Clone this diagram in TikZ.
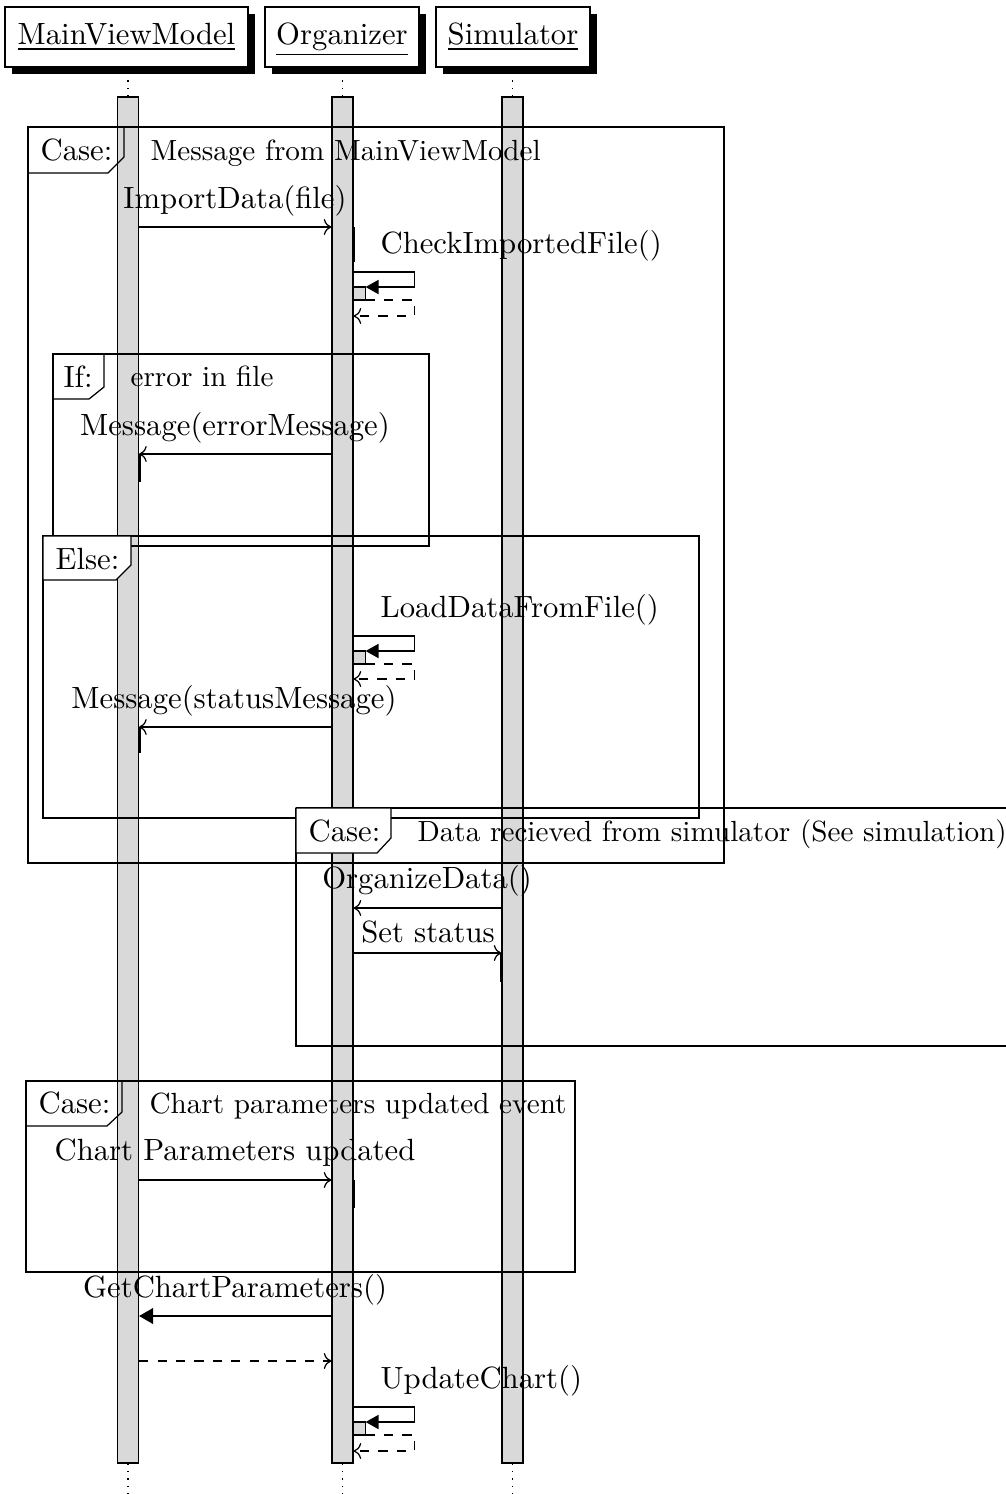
\documentclass[tikz,border=0pt]{standalone}
\usetikzlibrary{arrows.meta,shadows,calc}
\newcommand{\condtext}[1]{\scalebox{0.95}{#1}}
\begin{document}
\begin{tikzpicture}[x=0.3257pt,y=-0.3257pt,
  actor/.style={draw, fill=white, inner xsep=0pt, inner ysep=0pt,
    text height=12.05pt, text depth=7.45pt, anchor=base,
    drop shadow={shadow xshift=2.3pt, shadow yshift=-2.3pt, fill=black, opacity=1}},
  lifebar/.style={draw, fill=gray!30, inner sep=0pt, minimum width=6.84pt, minimum height=444.9pt},
  lifeline/.style={dotted},
  tag/.style={draw, fill=white},
  txt/.style={inner sep=0pt, anchor=base west},
  cond/.style={txt},
  lbl/.style={inner sep=0pt, anchor=base},
  msg/.style={->},
  reply/.style={->, dashed},
  sync/.style={-{Triangle[length=4.6pt,width=5.2pt]}},
  selfsync/.style={-{Triangle[length=4.2pt,width=4.6pt]}},
  act/.style={draw, fill=gray!30},
  calledge/.style={line width=0.35pt}
]
\useasboundingbox (0,0) rectangle (1006,1494);

% participants
\node[actor, minimum width=79.1pt] (mvm) at (126.5,44) {\underline{MainViewModel}};
\node[actor, minimum width=50.2pt] (org) at (342,44) {\underline{Organizer}};
\node[actor, minimum width=50.2pt] (sim) at (513,44) {\underline{Simulator}};

% activation bars and lifelines
\node[lifebar] (mvmbar) at (128,780) {};
\node[lifebar] (orgbar) at (342.5,780) {};
\node[lifebar] (simbar) at (512.5,780) {};
\foreach \b in {mvmbar,orgbar,simbar}{
  \draw[lifeline] (\b.north) -- ++(0,-23);
  \draw[lifeline] (\b.south) -- ++(0,31);
}

% Case: message from MainViewModel
\draw (28,127) rectangle (724,863);
\draw (28,127) -- (124,127) -- (124,157) -- (108,173) -- (28,173);
\node[txt] (c1tag) at (40,160) {Case:};
\node[cond] (c1cond) at (150,160) {\condtext{Message from MainViewModel}};

\coordinate (m1a) at (mvmbar.east |- 0,227);
\coordinate (m1b) at (orgbar.west |- 0,227);
\draw[msg] (m1a) -- (m1b);
\node[lbl] (m1l) at (235,208) {ImportData(file)};
\draw[calledge] ([xshift=0.3pt]orgbar.east |- 0,227) -- ++(0,35);

% self call: CheckImportedFile()
\node[txt] (s1l) at (380,253) {CheckImportedFile()};
\coordinate (s1) at (orgbar.east |- 0,272);
\draw (s1) -- ++(61,0) -- ++(0,15) coordinate (s1r);
\draw[selfsync] (s1r) -- ++(-49,0);
\draw[act] ($(s1)+(0,15)$) rectangle ++(12,13);
\draw[reply] ($(s1)+(12,28)$) -- ++(49,0) -- ++(0,16) -- ++(-61,0);

% If: error in file
\draw (53,354) rectangle (429,546);
\draw (53,354) -- (104,354) -- (104,387) -- (89,399) -- (53,399);
\node[txt] (iftag) at (63,387) {If:};
\node[cond] (ifcond) at (130,386) {\condtext{error in file}};

\coordinate (m2a) at (orgbar.west |- 0,454);
\coordinate (m2b) at (mvmbar.east |- 0,454);
\draw[msg] (m2a) -- (m2b);
\node[lbl] (m2l) at (235,435) {Message(errorMessage)};
\draw[calledge] ([xshift=0.3pt]m2b) -- ++(0,28);

% Else
\draw (43,536) rectangle (699,818);
\draw[tag] (43,536) -- (131,536) -- (131,565) -- (116,580) -- (43,580) -- cycle;
\node[txt] (elsetag) at (55,569) {Else:};

% self call: LoadDataFromFile()
\node[txt] (s2l) at (380,617) {LoadDataFromFile()};
\coordinate (s2) at (orgbar.east |- 0,636);
\draw (s2) -- ++(61,0) -- ++(0,15) coordinate (s2r);
\draw[selfsync] (s2r) -- ++(-49,0);
\draw[act] ($(s2)+(0,15)$) rectangle ++(12,13);
\draw[reply] ($(s2)+(12,28)$) -- ++(49,0) -- ++(0,15) -- ++(-61,0);

\coordinate (m3a) at (orgbar.west |- 0,727);
\coordinate (m3b) at (mvmbar.east |- 0,727);
\draw[msg] (m3a) -- (m3b);
\node[lbl] (m3l) at (234,708) {Message(statusMessage)};
\draw[calledge] ([xshift=0.3pt]m3b) -- ++(0,26);

% Case: data received from simulator
\draw (296,808) -- (1015,808);
\draw (296,808) -- (296,1046) -- (1015,1046);
\draw[tag] (296,808) -- (391,808) -- (391,838) -- (377,853) -- (296,853) -- cycle;
\node[txt] (c2tag) at (308,841) {Case:};
\node[cond] (c2cond) at (417,841) {\condtext{Data recieved from simulator (See simulation)}};

\coordinate (m4a) at (simbar.west |- 0,908);
\coordinate (m4b) at (orgbar.east |- 0,908);
\draw[msg] (m4a) -- (m4b);
\node[lbl] (m4l) at (427,888) {OrganizeData()};

\coordinate (m5a) at (orgbar.east |- 0,953);
\coordinate (m5b) at (simbar.west |- 0,953);
\draw[msg] (m5a) -- (m5b);
\node[lbl] (m5l) at (428,942) {Set status};
\draw[calledge] ([xshift=-0.3pt]m5b) -- ++(0,29);

% Case: chart parameters updated
\draw (26,1081) rectangle (575,1272);
\draw (26,1081) -- (122,1081) -- (122,1112) -- (107,1126) -- (26,1126);
\node[txt] (c3tag) at (38,1113) {Case:};
\node[cond] (c3cond) at (149,1113) {\condtext{Chart parameters updated event}};

\coordinate (m6a) at (mvmbar.east |- 0,1180);
\coordinate (m6b) at (orgbar.west |- 0,1180);
\draw[msg] (m6a) -- (m6b);
\node[lbl] (m6l) at (235,1160) {Chart Parameters updated};
\draw[calledge] ([xshift=0.3pt]orgbar.east |- 0,1180) -- ++(0,28);

% GetChartParameters() and its return
\coordinate (m7a) at (orgbar.west |- 0,1316);
\coordinate (m7b) at (mvmbar.east |- 0,1316);
\draw[sync] (m7a) -- (m7b);
\node[lbl] (m7l) at (235,1297) {GetChartParameters()};

\coordinate (r7a) at (mvmbar.east |- 0,1361);
\coordinate (r7b) at (orgbar.west |- 0,1361);
\draw[reply] (r7a) -- (r7b);

% self call: UpdateChart()
\node[txt] (s3l) at (380,1388) {UpdateChart()};
\coordinate (s3) at (orgbar.east |- 0,1407);
\draw (s3) -- ++(61,0) -- ++(0,15) coordinate (s3r);
\draw[selfsync] (s3r) -- ++(-49,0);
\draw[act] ($(s3)+(0,15)$) rectangle ++(12,13);
\draw[reply] ($(s3)+(12,28)$) -- ++(49,0) -- ++(0,16) -- ++(-61,0);
\end{tikzpicture}
\end{document}
